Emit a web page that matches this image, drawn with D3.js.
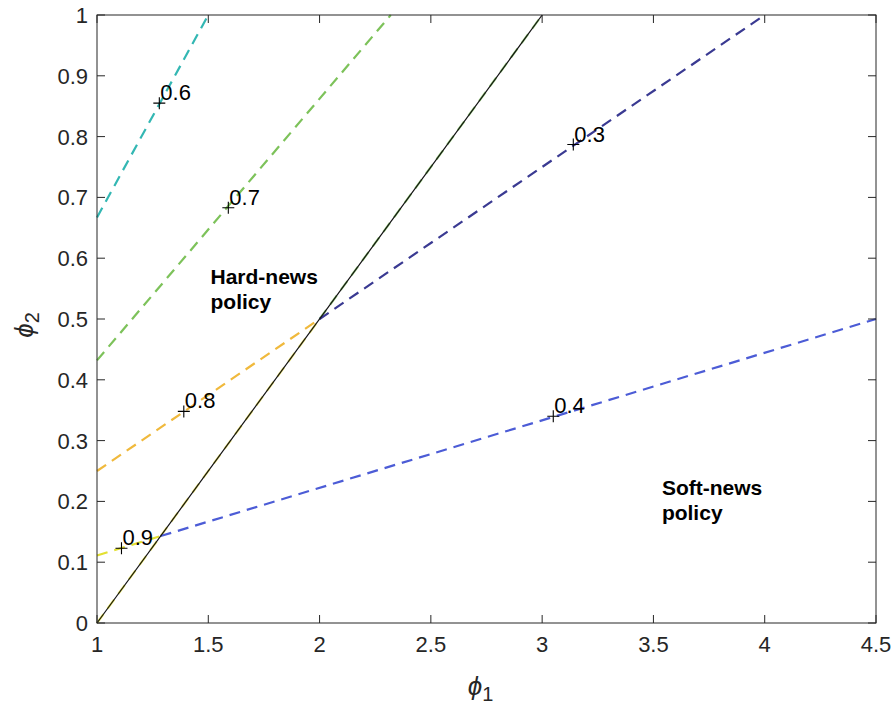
<!DOCTYPE html>
<html>
<head>
<meta charset="utf-8">
<script src="https://cdn.jsdelivr.net/npm/d3@7"></script>
<style>
  html, body { margin: 0; padding: 0; background: #fff; }
  svg { display: block; }
</style>
</head>
<body>
<svg id="chart" width="896" height="713"></svg>
<script>
// Axis ticks
const xTicks = [1, 1.5, 2, 2.5, 3, 3.5, 4, 4.5];
const yTicks = [0, 0.1, 0.2, 0.3, 0.4, 0.5, 0.6, 0.7, 0.8, 0.9, 1];

// Iso-level contour segments (phi1, phi2 endpoints)
const levelNames  = ["0.6", "0.7", "0.8", "0.9", "0.3", "0.4"];
const levelColors = ["#33b7b3", "#7dc25a", "#f0b93c", "#e3e031", "#3a3a92", "#4c5cd6"];
const levelPaths  = [
  [[1, 0.667], [1.5, 1]],
  [[1, 0.432], [2.32, 1]],
  [[1, 0.25], [2, 0.5]],
  [[1, 0.111], [1.286, 0.143]],
  [[2, 0.5], [4, 1]],
  [[1.286, 0.143], [4.5, 0.5]]
];

// Pieces of the iso-levels running along the boundary
const boundaryPieceColors = ["#e3e031", "#e3d845", "#7dc25a"];
const boundaryPieces = [
  [[1, 0], [1.286, 0.143]],
  [[1.286, 0.143], [2, 0.5]],
  [[2, 0.5], [3, 1]]
];

// Policy boundary (solid)
const boundary = [[1, 0], [3, 1]];

// Labelled marker points
const markerX = [1.28, 1.59, 1.39, 1.11, 3.14, 3.05];
const markerY = [0.855, 0.683, 0.348, 0.123, 0.787, 0.34];

// Region annotations
const regionText = [
  { lines: ["Hard-news", "policy"], x: 1.51, y: 0.558 },
  { lines: ["Soft-news", "policy"], x: 3.538, y: 0.2105 }
];

(function () {
  const svg = d3.select("#chart");
  const mLeft = 97, mRight = 876, mTop = 15, mBottom = 623;

  const x = d3.scaleLinear().domain([1, 4.5]).range([mLeft, mRight]);
  const y = d3.scaleLinear().domain([0, 1]).range([mBottom, mTop]);

  const axisColor = "#262626";
  const tickFont = "'Liberation Sans', Arial, Helvetica, sans-serif";

  const line = d3.line().x(d => x(d[0])).y(d => y(d[1]));

  const plot = svg.append("g");

  // dashed iso-level segments along the boundary (underneath the solid line)
  boundaryPieces.forEach((p, i) => {
    plot.append("path")
      .attr("d", line(p))
      .attr("fill", "none")
      .attr("stroke", boundaryPieceColors[i])
      .attr("stroke-width", 2.2)
      .attr("stroke-opacity", 0.8)
      .attr("stroke-dasharray", "11,7");
  });

  // iso-level segments
  levelPaths.forEach((p, i) => {
    plot.append("path")
      .attr("d", line(p))
      .attr("fill", "none")
      .attr("stroke", levelColors[i])
      .attr("stroke-width", 2.2)
      .attr("stroke-dasharray", "11,7");
  });

  // solid boundary
  plot.append("path")
    .attr("d", line(boundary))
    .attr("fill", "none")
    .attr("stroke", "#111")
    .attr("stroke-width", 1.2);

  // markers and labels
  markerX.forEach((mx, i) => {
    const px = x(mx), py = y(markerY[i]);
    plot.append("path")
      .attr("d", `M${px - 6},${py}H${px + 6}M${px},${py - 6}V${py + 6}`)
      .attr("stroke", "#000")
      .attr("stroke-width", 1.1);
    plot.append("text")
      .attr("x", px + 1)
      .attr("y", py - 3)
      .attr("font-family", tickFont)
      .attr("font-size", 22)
      .attr("fill", "#000")
      .text(levelNames[i]);
  });

  // region annotations
  regionText.forEach(r => {
    const t = plot.append("text")
      .attr("x", x(r.x))
      .attr("y", y(r.y))
      .attr("font-family", "'Liberation Sans', Arial, sans-serif")
      .attr("font-weight", "bold")
      .attr("font-size", 21)
      .attr("fill", "#000");
    r.lines.forEach((s, k) => {
      t.append("tspan").attr("x", x(r.x)).attr("dy", k === 0 ? 0 : 25).text(s);
    });
  });

  // axes box with inward ticks on all sides
  const tickLen = 8;
  const axes = svg.append("g").attr("stroke", axisColor).attr("stroke-width", 1);
  axes.append("rect")
    .attr("x", mLeft).attr("y", mTop)
    .attr("width", mRight - mLeft).attr("height", mBottom - mTop)
    .attr("fill", "none");

  xTicks.forEach(t => {
    axes.append("line").attr("x1", x(t)).attr("x2", x(t)).attr("y1", mBottom).attr("y2", mBottom - tickLen);
    axes.append("line").attr("x1", x(t)).attr("x2", x(t)).attr("y1", mTop).attr("y2", mTop + tickLen);
  });
  yTicks.forEach(t => {
    axes.append("line").attr("y1", y(t)).attr("y2", y(t)).attr("x1", mLeft).attr("x2", mLeft + tickLen);
    axes.append("line").attr("y1", y(t)).attr("y2", y(t)).attr("x1", mRight).attr("x2", mRight - tickLen);
  });

  // tick labels
  svg.append("g").selectAll("text").data(xTicks).join("text")
    .attr("x", d => x(d))
    .attr("y", mBottom + 29)
    .attr("text-anchor", "middle")
    .attr("font-family", tickFont)
    .attr("font-size", 22)
    .attr("fill", axisColor)
    .text(d => String(d));

  svg.append("g").selectAll("text").data(yTicks).join("text")
    .attr("x", mLeft - 9)
    .attr("y", d => y(d) + 8)
    .attr("text-anchor", "end")
    .attr("font-family", tickFont)
    .attr("font-size", 22)
    .attr("fill", axisColor)
    .text(d => String(d));

  // axis titles
  const xl = svg.append("text")
    .attr("x", (mLeft + mRight) / 2 - 6)
    .attr("y", 695)
    .attr("text-anchor", "middle")
    .attr("font-family", tickFont)
    .attr("font-size", 26)
    .attr("fill", axisColor);
  xl.append("tspan").attr("font-style", "italic").text("ϕ");
  xl.append("tspan").attr("dy", 6).attr("font-size", 20).text("1");

  const yl = svg.append("text")
    .attr("transform", `translate(33, ${(mTop + mBottom) / 2 + 6}) rotate(-90)`)
    .attr("text-anchor", "middle")
    .attr("font-family", tickFont)
    .attr("font-size", 26)
    .attr("fill", axisColor);
  yl.append("tspan").attr("font-style", "italic").text("ϕ");
  yl.append("tspan").attr("dy", 6).attr("font-size", 20).text("2");
})();
</script>
</body>
</html>
